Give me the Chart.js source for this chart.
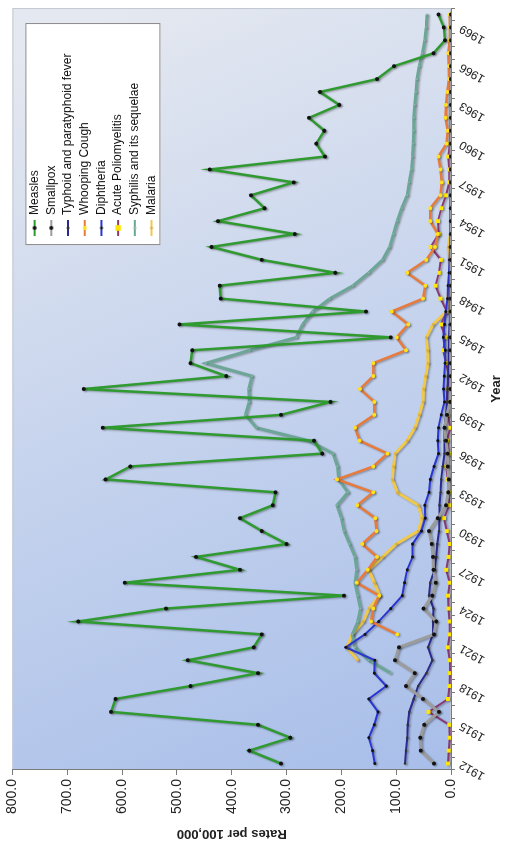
<!DOCTYPE html>
<html>
<head>
<meta charset="utf-8">
<script src="https://cdn.jsdelivr.net/npm/chart.js@4.4.1/dist/chart.umd.min.js"></script>
<style>
  html, body { margin: 0; padding: 0; background: #fff; width: 510px; height: 846px; overflow: hidden; }
  /* chart is drawn landscape, then turned a quarter turn to the left */
  #wrap { position: absolute; left: 0; top: 0; width: 846px; height: 510px;
          transform-origin: 0 0; transform: translate(0, 846px) rotate(-90deg); }
</style>
</head>
<body>
<div id="wrap"><canvas id="disease-chart" width="846" height="510"></canvas></div>
<script>
var ctx = document.getElementById('disease-chart');

var years = [1912,1913,1914,1915,1916,1917,1918,1919,1920,1921,
             1922,1923,1924,1925,1926,1927,1928,1929,1930,1931,
             1932,1933,1934,1935,1936,1937,1938,1939,1940,1941,
             1942,1943,1944,1945,1946,1947,1948,1949,1950,1951,
             1952,1953,1954,1955,1956,1957,1958,1959,1960,1961,
             1962,1963,1964,1965,1966,1967,1968,1969,1970];

var valueTicks = [0, 100, 200, 300, 400, 500, 600, 700, 800];

// rates per 100,000
var measles = [310,368,293,352,620,612,475,352,480,360,
               345,680,520,195,595,385,465,300,345,385,
               325,320,630,585,235,250,635,310,220,670,
               410,475,472,110,495,155,420,422,211,345,
               437,285,425,340,365,287,440,230,246,231,
               259,204,239,135,104,32,11,13,23];
var smallpox = [31,55,56,49,22,51,82,66,102,95,
                31,27,50,34,28,32,33,35,40,24,
                9,5,4,6,6,9,12,7.5,2,1,
                0.6,0.6,0.3,0.3,0.2,0.1,0,0,0,0,
                0,0,0,0,0,0,0,0,0,0,
                0,0,0,0,0,0,0,0,0];
var typhoid = [84,82,80,79,76,68,60,45,34,42,
               33,33,32,40,38,30,27,25,22,21,
               21,19,18,15,12,12,12,9,7.4,6.5,
               5.5,4.1,4,3.7,2.6,2.5,2.3,2.6,1.6,1.4,
               1.4,1.4,1.3,1,1,0.9,0.7,0.5,0.5,0.5,
               0.4,0.3,0.3,0.3,0.2,0.2,0.2,0.2,0.2];
var whooping = [null,null,null,null,null,null,null,null,null,null,
                98,146,142,131,172,152,135,162,136,138,
                171,142,208,142,116,167,175,140,140,166,
                142,142,82,99,78,108,51,47,80,45,
                29,24,38,38,19,17,19,23,8,6,
                10,9,7,3.5,4,5,2.4,1.6,2.1];
var diphtheria = [139,143,150,140,133,150,118,140,139,192,
                  157,132,110,89,85,80,70,70,54,47,
                  48,40,38,31,23,24,23,18,12,13.5,
                  12.5,11,10.6,14,12,9.7,6.5,5.4,3.8,2.6,
                  1.9,1.5,1.3,1.2,0.9,0.7,0.5,0.5,0.5,0.3,
                  0.2,0.2,0.2,0.1,0.1,0.1,0.1,0.1,0.2];
var polio = [5.5,4,2.3,3.1,41,5.3,2.7,1.9,2.2,5.8,
             2.3,2.9,4.6,5.3,2.3,8.8,4.4,2.4,7.7,12.8,
             3.1,4,5.9,8.5,3.6,7.4,1.3,5.6,7.4,6.8,
             3.1,9.3,14.3,10.3,18.4,7.5,19,28.3,22.1,18.5,
             37.2,22.5,23.9,17.6,9.1,3.2,3.3,4.9,1.8,0.8,
             0.5,0.2,0.1,0.05,0.05,0.02,0.02,0.01,0.02];
var syphilis = [null,null,null,null,null,null,null,110,150,175,
                180,170,165,170,175,172,175,185,195,200,
                208,188,205,207,215,260,355,375,368,369,
                363,447,367,282,271,252,221,179,150,125,
                112,105,98,90,80,76,72,70,69,68,
                68,66,64,62,58,52,48,45,44];
var malaria = [null,null,null,null,null,null,null,null,170,190,
               180,160,150,130,140,150,125,100,60,53,
               60,98,107,105,102,80,66,58,51,50,
               46,42,43,45,33,8,6,3,1.5,4,
               5,1,0.5,0.3,0.3,0.3,0.3,0.3,0.3,0.3,
               0.3,0.3,0.3,0.3,0.3,1,1.2,1.5,1.5];

Chart.defaults.font.family = "'Liberation Sans', Arial, sans-serif";
Chart.defaults.color = '#222';

function series(label, data, color, width, ptColor, ptRadius, ptStyle) {
    return {
        label: label,
        data: data,
        borderColor: color,
        borderWidth: width,
        backgroundColor: ptColor,
        pointBackgroundColor: ptColor,
        pointBorderColor: ptColor,
        pointBorderWidth: 0,
        pointRadius: ptRadius,
        pointStyle: ptStyle || 'circle',
        tension: 0,
        fill: false
    };
}

// little line + marker swatch for the legend
function legendIcon(ds) {
    var c = document.createElement('canvas');
    c.width = 16; c.height = 8;
    var g = c.getContext('2d');
    g.strokeStyle = ds.borderColor;
    g.lineWidth = 2;
    g.beginPath(); g.moveTo(0, 4); g.lineTo(16, 4); g.stroke();
    g.fillStyle = ds.pointBackgroundColor;
    var r = Math.max(ds.pointRadius, 1.5);
    if (ds.pointStyle === 'rect') {
        g.fillRect(8 - r, 4 - r, 2 * r, 2 * r);
    } else {
        g.beginPath(); g.arc(8, 4, r, 0, Math.PI * 2); g.fill();
    }
    return c;
}

// plot background, border and the white legend box
var plotDeco = {
    id: 'plotDeco',
    afterLayout: function(chart) {
        var ca = chart.chartArea, lg = chart.legend;
        var right = ca.right - 15, top = ca.top + 13;
        chart.$legendBox = { left: right - 222, top: top, width: 222, height: 135 };
        lg.left = right - 222 + 5.4;
        lg.top = top - 1.5;
        lg.right = right;
        lg.bottom = ca.bottom;
        lg.width = lg.right - lg.left;
        lg.height = lg.bottom - lg.top;
    },
    beforeDraw: function(chart) {
        var c = chart.ctx, ca = chart.chartArea;
        var grad = c.createLinearGradient(ca.left, ca.bottom, ca.right, ca.top + 120);
        grad.addColorStop(0, 'rgb(168,190,233)');
        grad.addColorStop(0.5, 'rgb(196,210,237)');
        grad.addColorStop(1, 'rgb(228,232,240)');
        c.save();
        c.fillStyle = grad;
        c.fillRect(ca.left, ca.top, ca.right - ca.left, ca.bottom - ca.top);
        c.strokeStyle = '#c4c8d0';
        c.lineWidth = 1;
        c.strokeRect(ca.left + 0.5, ca.top + 0.5, ca.right - ca.left - 1, ca.bottom - ca.top - 1);
        var b = chart.$legendBox;
        c.fillStyle = '#fff';
        c.fillRect(b.left, b.top, b.width, b.height);
        c.strokeStyle = '#8a8a8a';
        c.strokeRect(b.left + 0.5, b.top + 0.5, b.width - 1, b.height - 1);
        c.restore();
    },
    beforeDatasetDraw: function(chart) {
        var c = chart.ctx;
        c.save();
        c.shadowColor = 'rgba(0,0,0,0.3)';
        c.shadowBlur = 2;
        c.shadowOffsetX = -1;
        c.shadowOffsetY = 1.5;
    },
    afterDatasetDraw: function(chart) {
        chart.ctx.restore();
    }
};

var datasets = [
    series('Measles', measles, '#2f9a2f', 2.5, '#111', 2),
    series('Smallpox', smallpox, '#9c9c9c', 3, '#111', 2),
    series('Typhoid and paratyphoid fever', typhoid, '#2c2a8e', 2, '#333', 1.2),
    series('Whooping Cough', whooping, '#e87b3c', 2.5, '#ffe21a', 2),
    series('Diphtheria', diphtheria, '#2a36d2', 2, '#111', 1.5),
    series('Acute Poliomyelitis', polio, '#8a3a72', 2, '#ffe600', 2.8, 'rect'),
    series('Syphilis and its sequelae', syphilis, '#6ca696', 3, '#86b3a7', 1),
    series('Malaria', malaria, '#f0c94c', 3, '#dcb040', 1.2)
];

var myChart = new Chart(ctx, {
    type: 'line',
    data: { labels: years, datasets: datasets },
    plugins: [plotDeco],
    options: {
        responsive: false,
        animation: false,
        layout: { padding: { top: 12, right: 3, left: 0, bottom: 0 } },
        plugins: {
            tooltip: { enabled: false },
            legend: {
                position: 'chartArea',
                align: 'start',
                labels: {
                    usePointStyle: true,
                    pointStyleWidth: 14,
                    padding: 4.7,
                    color: '#111',
                    font: { size: 12 },
                    generateLabels: function(chart) {
                        var items = Chart.defaults.plugins.legend.labels.generateLabels(chart);
                        items.forEach(function(it) {
                            it.pointStyle = legendIcon(chart.data.datasets[it.datasetIndex]);
                        });
                        return items;
                    }
                }
            }
        },
        scales: {
            x: {
                type: 'category',
                offset: true,
                grid: { display: true, drawOnChartArea: false, offset: true, tickLength: 4, color: '#7a7a7a' },
                border: { color: '#7a7a7a' },
                ticks: {
                    autoSkip: false,
                    minRotation: 60,
                    maxRotation: 60,
                    padding: 2,
                    font: { size: 12 },
                    callback: function(value, index) {
                        return index % 3 === 0 ? this.getLabelForValue(value) : '';
                    }
                },
                title: { display: true, text: 'Year', font: { size: 13, weight: 'bold' }, padding: { top: 0, bottom: 6 } },
                afterFit: function(scale) { scale.height = 59; }
            },
            y: {
                min: valueTicks[0],
                max: valueTicks[valueTicks.length - 1],
                afterBuildTicks: function(scale) {
                    scale.ticks = valueTicks.map(function(v) { return { value: v }; });
                },
                grid: { display: true, drawOnChartArea: false, tickLength: 5, color: '#7a7a7a' },
                border: { color: '#7a7a7a' },
                ticks: {
                    padding: 4,
                    font: { size: 14 },
                    callback: function(v) { return Number(v).toFixed(1); }
                },
                title: { display: true, text: 'Rates per 100,000', font: { size: 13, weight: 'bold' }, padding: { top: 5, bottom: 0 } },
                afterFit: function(scale) { scale.width = 76; }
            }
        }
    }
});
</script>
</body>
</html>
